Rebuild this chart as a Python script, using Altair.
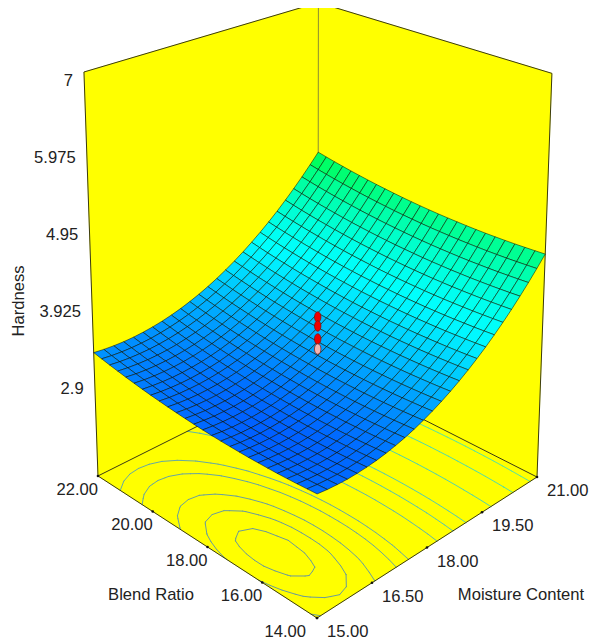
import altair as alt

moisture_ticks = [15.0, 16.5, 18.0, 19.5, 21.0]
blend_ticks = [14.0, 16.0, 18.0, 20.0, 22.0]
hardness_ticks = [2.9, 3.925, 4.95, 5.975, 7.0]
hardness_floor = 1.615
design_hardness = [3.824, 3.703, 3.527, 3.39]
contour_levels = [3.104, 3.127, 3.160, 3.22, 3.27, 3.437, 3.563, 3.684, 3.966, 4.271, 4.55]

# Surface heights: one row per blend ratio (14 to 22), one column per moisture content (15 to 21).
hardness_rows = [
[3.166,3.149,3.139,3.134,3.137,3.146,3.161,3.183,3.211,3.245,3.286,3.334,3.388,3.448,3.515,3.588,3.668,3.754,3.846,3.945,4.050,4.162,4.281,4.405,4.536,4.674],
[3.156,3.139,3.129,3.124,3.127,3.136,3.151,3.173,3.201,3.235,3.277,3.324,3.378,3.438,3.505,3.578,3.658,3.744,3.836,3.935,4.041,4.153,4.271,4.396,4.527,4.665],
[3.147,3.130,3.120,3.116,3.118,3.127,3.143,3.164,3.192,3.227,3.268,3.316,3.370,3.430,3.497,3.570,3.650,3.736,3.828,3.927,4.033,4.145,4.263,4.388,4.519,4.657],
[3.140,3.123,3.113,3.109,3.111,3.120,3.135,3.157,3.185,3.220,3.261,3.309,3.363,3.423,3.490,3.563,3.643,3.729,3.822,3.921,4.026,4.138,4.256,4.381,4.512,4.650],
[3.134,3.117,3.107,3.103,3.105,3.114,3.130,3.151,3.180,3.214,3.255,3.303,3.357,3.417,3.484,3.558,3.637,3.724,3.816,3.915,4.021,4.133,4.251,4.376,4.507,4.645],
[3.130,3.113,3.103,3.099,3.101,3.110,3.125,3.147,3.175,3.210,3.251,3.299,3.353,3.413,3.480,3.554,3.633,3.720,3.812,3.911,4.017,4.129,4.247,4.372,4.503,4.641],
[3.127,3.110,3.100,3.096,3.098,3.107,3.122,3.144,3.173,3.207,3.248,3.296,3.350,3.411,3.477,3.551,3.631,3.717,3.810,3.909,4.014,4.126,4.245,4.369,4.501,4.638],
[3.125,3.108,3.098,3.094,3.097,3.106,3.121,3.143,3.171,3.206,3.247,3.295,3.349,3.409,3.476,3.550,3.629,3.716,3.808,3.907,4.013,4.125,4.243,4.368,4.500,4.637],
[3.125,3.108,3.098,3.094,3.096,3.105,3.121,3.143,3.171,3.206,3.247,3.295,3.349,3.409,3.476,3.550,3.629,3.716,3.808,3.908,4.013,4.125,4.244,4.369,4.500,4.638],
[3.126,3.109,3.099,3.095,3.098,3.107,3.122,3.144,3.172,3.207,3.248,3.296,3.350,3.411,3.478,3.551,3.631,3.717,3.810,3.909,4.015,4.127,4.245,4.370,4.502,4.640],
[3.128,3.112,3.101,3.098,3.100,3.109,3.125,3.147,3.175,3.210,3.251,3.299,3.353,3.414,3.481,3.554,3.634,3.720,3.813,3.912,4.018,4.130,4.248,4.373,4.505,4.643],
[3.132,3.115,3.105,3.101,3.104,3.113,3.129,3.151,3.179,3.214,3.255,3.303,3.357,3.418,3.485,3.558,3.638,3.725,3.817,3.917,4.022,4.134,4.253,4.378,4.509,4.647],
[3.137,3.121,3.111,3.107,3.110,3.119,3.134,3.156,3.185,3.220,3.261,3.309,3.363,3.423,3.490,3.564,3.644,3.730,3.823,3.922,4.028,4.140,4.259,4.384,4.515,4.653],
[3.144,3.128,3.117,3.114,3.116,3.125,3.141,3.163,3.192,3.226,3.268,3.316,3.370,3.430,3.497,3.571,3.651,3.737,3.830,3.930,4.035,4.147,4.266,4.391,4.523,4.660],
[3.152,3.136,3.125,3.122,3.124,3.134,3.149,3.171,3.200,3.235,3.276,3.324,3.378,3.439,3.506,3.579,3.659,3.746,3.839,3.938,4.044,4.156,4.275,4.400,4.531,4.669],
[3.162,3.145,3.135,3.131,3.134,3.143,3.159,3.181,3.209,3.244,3.286,3.334,3.388,3.449,3.516,3.589,3.669,3.756,3.849,3.948,4.054,4.166,4.285,4.410,4.541,4.679],
[3.173,3.156,3.146,3.142,3.145,3.154,3.170,3.192,3.221,3.256,3.297,3.345,3.399,3.460,3.527,3.601,3.681,3.767,3.860,3.959,4.065,4.177,4.296,4.421,4.553,4.691],
[3.185,3.168,3.158,3.155,3.157,3.167,3.182,3.204,3.233,3.268,3.309,3.357,3.412,3.472,3.540,3.613,3.693,3.780,3.873,3.972,4.078,4.190,4.309,4.434,4.566,4.704],
[3.198,3.182,3.172,3.168,3.171,3.180,3.196,3.218,3.247,3.282,3.323,3.371,3.426,3.486,3.554,3.627,3.707,3.794,3.887,3.986,4.092,4.204,4.323,4.448,4.580,4.718],
[3.213,3.197,3.187,3.183,3.186,3.196,3.211,3.233,3.262,3.297,3.339,3.387,3.441,3.502,3.569,3.643,3.723,3.809,3.902,4.002,4.108,4.220,4.339,4.464,4.596,4.734],
[3.230,3.213,3.203,3.200,3.203,3.212,3.228,3.250,3.279,3.314,3.355,3.403,3.458,3.519,3.586,3.660,3.740,3.826,3.919,4.019,4.125,4.237,4.356,4.481,4.613,4.751],
[3.248,3.231,3.221,3.218,3.221,3.230,3.246,3.268,3.297,3.332,3.373,3.421,3.476,3.537,3.604,3.678,3.758,3.845,3.938,4.037,4.143,4.255,4.374,4.499,4.631,4.769],
[3.267,3.251,3.241,3.237,3.240,3.249,3.265,3.288,3.316,3.351,3.393,3.441,3.495,3.556,3.624,3.697,3.778,3.864,3.957,4.057,4.163,4.275,4.394,4.519,4.651,4.789],
[3.288,3.271,3.261,3.258,3.261,3.270,3.286,3.308,3.337,3.372,3.414,3.462,3.516,3.577,3.645,3.718,3.799,3.885,3.978,4.078,4.184,4.296,4.415,4.540,4.672,4.810],
[3.310,3.293,3.283,3.280,3.283,3.292,3.308,3.331,3.359,3.394,3.436,3.484,3.539,3.600,3.667,3.741,3.821,3.908,4.001,4.100,4.206,4.319,4.438,4.563,4.695,4.833],
[3.333,3.317,3.307,3.303,3.306,3.316,3.332,3.354,3.383,3.418,3.460,3.508,3.562,3.623,3.691,3.765,3.845,3.932,4.025,4.124,4.230,4.343,4.462,4.587,4.719,4.857],
]

# Camera for the 3D box (perspective matrix acting on normalised moisture, blend, hardness).
CAMERA = [[295.5, -205.3, -21.9, 317.0], [-73.9, -75.4, -465.6, 618.0], [0.1406, 0.14, -0.0705, 1.0]]
M0, M1 = moisture_ticks[0], moisture_ticks[-1]
B0, B1 = blend_ticks[0], blend_ticks[-1]
ZTOP = hardness_ticks[-1]


def project(m, b, z):
    u, v, t = (m - M0) / (M1 - M0), (b - B0) / (B1 - B0), (z - hardness_floor) / (ZTOP - hardness_floor)
    p = [r[0] * u + r[1] * v + r[2] * t + r[3] for r in CAMERA]
    return [round(p[0] / p[2], 2), round(p[1] / p[2], 2)]


def feature(kind, coords, **props):
    return {"type": "Feature", "geometry": {"type": kind, "coordinates": coords}, "properties": props}


def lerp(a, b, f):
    return [a[0] + (b[0] - a[0]) * f, a[1] + (b[1] - a[1]) * f]


n_b, n_m = len(hardness_rows), len(hardness_rows[0])
ms = [M0 + (M1 - M0) * i / (n_m - 1) for i in range(n_m)]
bs = [B0 + (B1 - B0) * j / (n_b - 1) for j in range(n_b)]

# Walls and floor
F, L, R, K = (M0, B0), (M0, B1), (M1, B0), (M1, B1)
def quad(a, za, b, zb, c, zc, d, zd):
    pts = [project(*a, za), project(*b, zb), project(*c, zc), project(*d, zd)]
    return feature("Polygon", [pts + [pts[0]]])

zb_, zt_ = hardness_floor, ZTOP
walls = [
    quad(L, zb_, K, zb_, K, zt_, L, zt_),
    quad(K, zb_, R, zb_, R, zt_, K, zt_),
    quad(F, zb_, R, zb_, K, zb_, L, zb_),
]
dark_edges = [
    feature("LineString", [project(*L, zt_), project(*K, zt_), project(*R, zt_), project(*R, zb_), project(*K, zb_), project(*L, zb_), project(*L, zt_)]),
    feature("LineString", [project(*L, zb_), project(*F, zb_), project(*R, zb_)]),
]
pale_edges = [feature("LineString", [project(*K, zb_), project(*K, zt_)])]

contours = []
for lev in contour_levels:
    segs = []
    for j in range(n_b - 1):
        for i in range(n_m - 1):
            c = [(ms[i], bs[j], hardness_rows[j][i]), (ms[i + 1], bs[j], hardness_rows[j][i + 1]),
                 (ms[i + 1], bs[j + 1], hardness_rows[j + 1][i + 1]), (ms[i], bs[j + 1], hardness_rows[j + 1][i])]
            cross = []
            for k in range(4):
                a, b = c[k], c[(k + 1) % 4]
                if (a[2] < lev) != (b[2] < lev):
                    f = (lev - a[2]) / (b[2] - a[2])
                    cross.append(project(a[0] + (b[0] - a[0]) * f, a[1] + (b[1] - a[1]) * f, hardness_floor))
            if len(cross) >= 2:
                segs.append(cross[:2])
            if len(cross) == 4:
                segs.append(cross[2:])
    contours.append(feature("MultiLineString", segs, z=lev))

# Surface cells, painted back to front
cells = []
for j in range(n_b - 2, -1, -1):
    for i in range(n_m - 2, -1, -1):
        corners = [(i, j), (i + 1, j), (i + 1, j + 1), (i, j + 1)]
        pts = [project(ms[a], bs[b], hardness_rows[b][a]) for a, b in corners]
        zmean = sum(hardness_rows[b][a] for a, b in corners) / 4
        cells.append(feature("Polygon", [pts + [pts[0]]], z=round(zmean, 3)))

# Ticks follow the box edges at even steps
def tick_rows(labels, start, end, lo, hi, fmt):
    out = []
    for v in labels:
        p = lerp(start, end, (v - lo) / (hi - lo))
        out.append({"lon": p[0], "lat": p[1], "label": fmt(v)})
    return out

m_rows = tick_rows(moisture_ticks, project(*F, zb_), project(*R, zb_), M0, M1, lambda v: f"{v:.2f}")
b_rows = tick_rows(blend_ticks, project(*F, zb_), project(*L, zb_), B0, B1, lambda v: f"{v:.2f}")
h_rows = tick_rows(hardness_ticks, project(*L, zb_), project(*L, zt_), hardness_floor, ZTOP, lambda v: f"{v:g}")

rainbow = alt.Scale(domain=hardness_ticks, range=["#0000ff", "#00ffff", "#00ff00", "#ffff00", "#ff0000"])
contour_scale = alt.Scale(domain=[3.1, 3.6, 4.55], range=["#6c9a98", "#58c8b0", "#58e4a0"])
FONT = "Liberation Sans"
INK = "#222222"


def geo(values, **mark):
    return alt.Chart(alt.Data(values=values)).mark_geoshape(**mark)


def at(rows):
    return alt.Chart(alt.Data(values=rows)).encode(longitude="lon:Q", latitude="lat:Q")


def label(rows, **mark):
    return at(rows).mark_text(font=FONT, fontSize=16.6, color=INK, **mark).encode(text="label:N")


design_rows = [{"lon": project(18, 18, z)[0], "lat": project(18, 18, z)[1], "above": z > 3.4} for z in design_hardness]
ellipse = "M0,-1A0.62,1 0 1,1 0,1A0.62,1 0 1,1 0,-1Z"
title_rows = [
    {"lon": 151, "lat": 595, "label": "Blend Ratio"},
    {"lon": 521, "lat": 595, "label": "Moisture Content"},
]
side_rows = [{"lon": 19, "lat": 301, "label": "Hardness"}]

layers = [
    geo(walls, fill="#ffff00", stroke="#ffff00", strokeWidth=0.5),
    geo(pale_edges, filled=False, stroke="#8c8c30", strokeWidth=1),
    geo(contours, filled=False, strokeWidth=1, strokeCap="round").encode(
        color=alt.Color("properties.z:Q", scale=contour_scale, legend=None)),
    geo(dark_edges, filled=False, stroke="#3a3a10", strokeWidth=1),
    geo(cells, stroke="#000000", strokeOpacity=0.65, strokeWidth=0.75).encode(
        color=alt.Color("properties.z:Q", scale=rainbow, legend=None)),
    at(design_rows).mark_point(shape=ellipse, size=110, filled=True, opacity=1, stroke="#7a1010", strokeWidth=0.7).encode(
        color=alt.Color("above:N", scale=alt.Scale(domain=[True, False], range=["#f00000", "#f4b4b0"]), legend=None)),
    at(m_rows + b_rows).mark_point(shape="circle", size=7, filled=True, opacity=1, color="#111111"),
    label(h_rows, align="right", baseline="middle", dx=-11, dy=9),
    label(b_rows[1:], align="right", baseline="middle", dy=14),
    label(b_rows[:1], align="right", baseline="middle", dx=-11, dy=14),
    label(m_rows[:1], align="left", baseline="middle", dx=10, dy=14),
    label(m_rows[1:], align="left", baseline="middle", dx=10, dy=14),
    label(title_rows, align="center", baseline="middle"),
    label(side_rows, align="center", baseline="middle", angle=270),
]

chart = alt.layer(*layers).project(type="identity", scale=1, translate=[-8, -8]).properties(
    width=581, height=634, padding=0
).configure_view(stroke=None)

chart.save("out.html", embed_options={"renderer": "svg", "actions": False})
